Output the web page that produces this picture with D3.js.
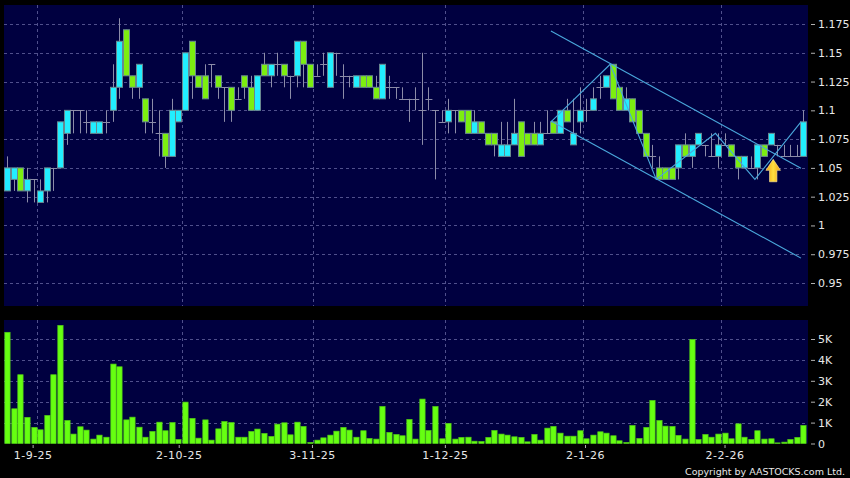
<!DOCTYPE html>
<html>
<head>
<meta charset="utf-8">
<script src="https://cdn.jsdelivr.net/npm/d3@7"></script>
<style>
html, body { margin: 0; padding: 0; background: #000; }
text { font-family: "DejaVu Sans", sans-serif; fill: #e8e8e8; }
</style>
</head>
<body>
<svg id="chart" width="850" height="478" style="display:block"></svg>
<script>
const opens = [1.03,1.04,1.05,1.03,1.04,1.02,1.03,1.05,1.05,1.08,1.10,1.10,1.09,1.08,1.08,1.09,1.10,1.12,1.17,1.13,1.12,1.11,1.09,1.08,1.08,1.06,1.09,1.10,1.16,1.13,1.13,1.14,1.13,1.12,1.12,1.11,1.13,1.12,1.10,1.14,1.13,
    1.14,1.14,1.13,1.13,1.16,1.14,1.13,1.14,1.12,1.15,1.13,1.13,1.12,1.13,1.13,1.12,1.11,1.12,1.12,1.11,1.11,1.11,1.10,1.11,1.10,1.09,1.09,1.10,1.10,1.10,1.08,1.09,1.08,1.08,1.06,1.06,1.07,1.09,1.08,1.08,
    1.07,1.08,1.09,1.08,1.10,1.07,1.09,1.10,1.10,1.12,1.12,1.14,1.12,1.10,1.11,1.10,1.08,1.06,1.05,1.05,1.05,1.05,1.07,1.06,1.07,1.07,1.06,1.06,1.07,1.07,1.06,1.05,1.05,1.05,1.07,1.07,1.07,1.06,1.06,1.06,1.06];
const highs = [1.06,1.05,1.05,1.05,1.04,1.04,1.05,1.05,1.09,1.10,1.10,1.10,1.10,1.09,1.09,1.10,1.14,1.18,1.17,1.13,1.14,1.11,1.11,1.10,1.08,1.11,1.10,1.15,1.16,1.13,1.14,1.14,1.13,1.12,1.12,1.12,1.13,1.13,1.13,1.15,1.14,
    1.15,1.14,1.13,1.16,1.16,1.14,1.14,1.15,1.15,1.15,1.14,1.13,1.13,1.13,1.13,1.13,1.14,1.13,1.12,1.12,1.11,1.12,1.15,1.12,1.10,1.10,1.11,1.10,1.10,1.10,1.10,1.09,1.08,1.08,1.09,1.09,1.11,1.09,1.08,1.09,
    1.09,1.10,1.09,1.10,1.11,1.11,1.12,1.11,1.12,1.13,1.13,1.14,1.12,1.12,1.11,1.10,1.08,1.07,1.06,1.05,1.05,1.07,1.08,1.07,1.08,1.07,1.08,1.08,1.08,1.07,1.06,1.06,1.06,1.07,1.07,1.08,1.07,1.07,1.07,1.07,1.10];
const lows = [1.03,1.03,1.03,1.02,1.02,1.02,1.02,1.03,1.05,1.07,1.08,1.08,1.08,1.08,1.08,1.08,1.09,1.11,1.13,1.11,1.11,1.08,1.08,1.06,1.05,1.06,1.09,1.10,1.11,1.12,1.11,1.12,1.11,1.09,1.09,1.11,1.11,1.10,1.10,1.13,1.12,
    1.13,1.12,1.11,1.12,1.12,1.12,1.13,1.13,1.12,1.13,1.11,1.12,1.12,1.12,1.12,1.11,1.11,1.11,1.11,1.11,1.09,1.10,1.07,1.10,1.04,1.09,1.08,1.08,1.09,1.08,1.08,1.08,1.07,1.06,1.06,1.06,1.07,1.06,1.07,1.07,
    1.07,1.08,1.08,1.08,1.09,1.07,1.08,1.09,1.10,1.11,1.12,1.11,1.10,1.10,1.09,1.08,1.06,1.05,1.04,1.04,1.04,1.04,1.06,1.05,1.07,1.06,1.06,1.05,1.07,1.06,1.04,1.05,1.05,1.04,1.06,1.07,1.06,1.06,1.06,1.06,1.06];
const closes = [1.05,1.05,1.03,1.04,1.04,1.03,1.05,1.05,1.09,1.10,1.10,1.10,1.09,1.09,1.09,1.09,1.12,1.16,1.13,1.12,1.14,1.09,1.09,1.08,1.06,1.10,1.10,1.15,1.13,1.12,1.11,1.14,1.12,1.12,1.10,1.11,1.12,1.10,1.13,1.13,1.14,
    1.14,1.13,1.13,1.16,1.14,1.12,1.13,1.14,1.15,1.15,1.13,1.13,1.13,1.12,1.12,1.11,1.14,1.12,1.12,1.11,1.11,1.11,1.10,1.11,1.10,1.09,1.10,1.10,1.09,1.08,1.09,1.08,1.07,1.07,1.07,1.07,1.08,1.06,1.07,1.07,
    1.08,1.08,1.08,1.10,1.09,1.08,1.10,1.10,1.11,1.12,1.13,1.11,1.10,1.11,1.09,1.08,1.06,1.06,1.04,1.04,1.04,1.07,1.06,1.07,1.08,1.07,1.06,1.07,1.07,1.06,1.05,1.06,1.05,1.07,1.06,1.08,1.07,1.06,1.06,1.06,1.09];
const volumes = [5320,1660,3290,1250,770,655,1340,3290,5650,1100,450,800,640,210,400,300,3800,3670,1130,1260,780,300,575,1020,610,1000,190,1980,1200,255,1130,160,700,1050,1000,300,300,575,690,480,335,
    925,990,415,1020,815,50,160,270,400,590,770,640,300,610,240,210,1770,530,430,370,1150,210,2125,620,1770,225,960,210,290,300,110,95,290,620,450,400,320,290,80,430,
    160,735,815,495,350,350,610,225,400,560,495,370,130,50,860,240,770,2060,1100,830,815,385,210,4980,190,430,300,450,495,225,940,300,190,610,210,225,30,65,190,290,860];

const priceTicks = [1.175,1.15,1.125,1.1,1.075,1.05,1.025,1,0.975,0.95];
const priceTickLabels = ["1.175","1.15","1.125","1.1","1.075","1.05","1.025","1","0.975","0.95"];
const volumeTicks = [0,1000,2000,3000,4000,5000];
const volumeTickLabels = ["0","1K","2K","3K","4K","5K"];
const dateLabels = ["1-9-25","2-10-25","3-11-25","1-12-25","2-1-26","2-2-26"];
const dateGridIndex = [5,27,47,67,88,109];
const dateLabelIndex = [3.85,26.05,46.3,66.5,87.8,109];

const zigzagIndex = [83,92,99,108,114,121];
const zigzagPrice = [1.09,1.14,1.04,1.08,1.04,1.09];
const channelIndex = [83,121];
const channelUpper = [1.1689,1.0497];
const channelLower = [1.0908,0.9716];
const arrowIndex = 116.4;
const arrowPrice = 1.0574;

const svg = d3.select("#chart");
const plotLeft = 4, plotRight = 808;
const priceTop = 5, priceBottom = 306;
const volTop = 320, volBottom = 443.5;

const step = 6.58;
const x = d3.scaleLinear().domain([0, 121]).range([7.3, 7.3 + step * 121]);
const y = d3.scaleLinear().domain([1.175, 0.95]).range([24, 283]);
const yVol = d3.scaleLinear().domain([0, 5000]).range([443.5, 339]);

const gridColor = "#50508c";
const wickColor = "#8c8ca8";
const lineColor = "#4aa8dc";
const px = v => Math.round(v) + 0.5;

svg.append("rect").attr("x", plotLeft).attr("y", priceTop)
    .attr("width", plotRight - plotLeft).attr("height", priceBottom - priceTop).attr("fill", "#000040");
svg.append("rect").attr("x", plotLeft).attr("y", volTop)
    .attr("width", plotRight - plotLeft).attr("height", volBottom - volTop).attr("fill", "#000040");

function hGrid(values, scale) {
    svg.append("g").selectAll("line").data(values).enter().append("line")
        .attr("x1", plotLeft).attr("x2", plotRight)
        .attr("y1", d => px(scale(d))).attr("y2", d => px(scale(d)))
        .attr("stroke", gridColor).attr("stroke-dasharray", "3,3");
}
function vGrid(top, bottom) {
    svg.append("g").selectAll("line").data(dateGridIndex).enter().append("line")
        .attr("x1", d => px(x(d) - step / 2)).attr("x2", d => px(x(d) - step / 2))
        .attr("y1", top).attr("y2", bottom)
        .attr("stroke", gridColor).attr("stroke-dasharray", "3,3");
}
hGrid(priceTicks, y);
vGrid(priceTop, priceBottom);
hGrid(volumeTicks.slice(1), yVol);
vGrid(volTop, volBottom);

// candles
const candles = svg.append("g").selectAll("g").data(opens).enter().append("g");
candles.append("line")
    .attr("x1", (d, i) => px(x(i))).attr("x2", (d, i) => px(x(i)))
    .attr("y1", (d, i) => y(highs[i])).attr("y2", (d, i) => y(lows[i]))
    .attr("stroke", wickColor);
candles.each(function (d, i) {
    const g = d3.select(this);
    if (opens[i] === closes[i]) {
        g.append("line")
            .attr("x1", x(i) - 3).attr("x2", x(i) + 4)
            .attr("y1", px(y(opens[i]))).attr("y2", px(y(opens[i])))
            .attr("stroke", wickColor);
    } else {
        g.append("rect")
            .attr("x", Math.round(x(i)) - 2.5)
            .attr("y", y(Math.max(opens[i], closes[i])))
            .attr("width", 6)
            .attr("height", Math.abs(y(opens[i]) - y(closes[i])))
            .attr("fill", closes[i] > opens[i] ? "#22eeff" : "#7cee10")
            .attr("stroke", "#688890");
    }
});

// trend lines
const lineGen = d3.line().x(d => x(d[0]) - 2.5).y(d => y(d[1]));
const lineGroup = svg.append("g").attr("fill", "none").attr("stroke", lineColor).attr("stroke-width", 1.1);
lineGroup.append("path").attr("d", lineGen(zigzagIndex.map((d, i) => [d, zigzagPrice[i]])));
lineGroup.append("path").attr("d", lineGen(channelIndex.map((d, i) => [d, channelUpper[i]])));
lineGroup.append("path").attr("d", lineGen(channelIndex.map((d, i) => [d, channelLower[i]])));

// signal arrow
const arrowFill = svg.append("defs").append("linearGradient").attr("id", "arrowFill")
    .attr("x1", 0).attr("x2", 1).attr("y1", 0).attr("y2", 0);
arrowFill.append("stop").attr("offset", "0%").attr("stop-color", "#f0a010");
arrowFill.append("stop").attr("offset", "50%").attr("stop-color", "#ffe040");
arrowFill.append("stop").attr("offset", "100%").attr("stop-color", "#f0a010");
svg.append("path")
    .attr("transform", `translate(${x(arrowIndex)},${y(arrowPrice)})`)
    .attr("d", "M0,0 L7.3,11 L3.7,11 L3.7,22.4 L-3.7,22.4 L-3.7,11 L-7.3,11 Z")
    .attr("fill", "url(#arrowFill)").attr("stroke", "#ffe9a0").attr("stroke-width", 0.6);

// volume
svg.append("g").selectAll("rect").data(volumes).enter().append("rect")
    .attr("x", (d, i) => Math.round(x(i)) - 2.2)
    .attr("y", d => yVol(d))
    .attr("width", 5.3)
    .attr("height", d => yVol(0) - yVol(d))
    .attr("fill", "#66ff11")
    .attr("stroke", "#52cc14")
    .attr("stroke-width", 0.7);

// axes
const axisPrice = d3.axisRight(y).tickValues(priceTicks).tickSize(4).tickFormat((d, i) => priceTickLabels[i]);
const priceAxisG = svg.append("g").attr("transform", `translate(${plotRight + 3},0)`).call(axisPrice);
const axisVol = d3.axisRight(yVol).tickValues(volumeTicks).tickSize(4).tickFormat((d, i) => volumeTickLabels[i]);
const volAxisG = svg.append("g").attr("transform", `translate(${plotRight + 3},0)`).call(axisVol);
[priceAxisG, volAxisG].forEach(g => {
    g.select(".domain").remove();
    g.selectAll("line").attr("stroke", "#b0b0b0");
    g.selectAll("text").attr("x", 7).style("font-size", "11px").style("font-family", '"DejaVu Sans"').attr("fill", "#e8e8e8");
});

const axisDate = d3.axisBottom(x).tickValues(dateLabelIndex).tickSize(3).tickFormat((d, i) => dateLabels[i]);
const dateAxisG = svg.append("g").attr("transform", "translate(0,445)").call(axisDate);
dateAxisG.select(".domain").remove();
dateAxisG.selectAll("line").attr("stroke", "#b0b0b0");
dateAxisG.selectAll("text").attr("y", 6).style("font-size", "11px").style("letter-spacing", "0.5px")
    .style("font-family", '"DejaVu Sans"').attr("fill", "#e8e8e8");

svg.append("text").attr("x", 845).attr("y", 474.5).attr("text-anchor", "end")
    .style("font-size", "9.5px").text("Copyright by AASTOCKS.com Ltd.");
</script>
</body>
</html>
